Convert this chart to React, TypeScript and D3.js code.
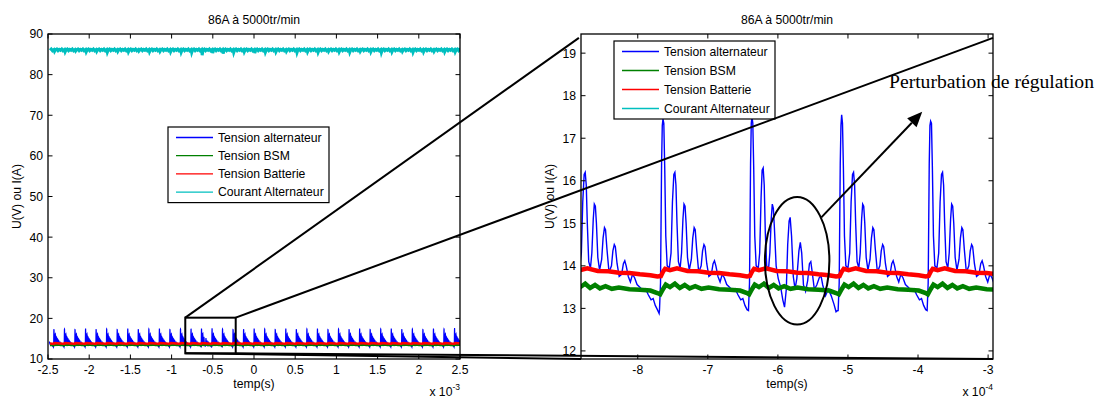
import React from 'react';
import * as d3 from 'd3';

const W = 1101;
const H = 399;

const seriesNames = ['Tension alternateur', 'Tension BSM', 'Tension Batterie', 'Courant Alternateur'];
const seriesColors = ['#0000ff', '#008000', '#ff0000', '#00bfbf'];

// spike (event) times, unit 1e-4 s
const leadEvent = -25.56;
const eventTimes = [
  -24.28, -23.0, -21.72, -20.44, -19.16, -17.88, -16.6, -15.32, -14.04, -12.76, -11.48, -10.2, -8.92,
  -7.64, -6.37, -5.09, -3.82,
  -2.54, -1.26, 0.02, 1.3, 2.58, 3.86, 5.14, 6.42, 7.7, 8.98, 10.26, 11.54, 12.82, 14.1, 15.38, 16.66,
  17.94, 19.22, 20.5, 21.78, 23.06, 24.34,
];
const endTime = 25.6;
// peak value of each alternator spike (V)
const spikePeaks = [
  17.0, 17.4, 17.3, 17.5, 17.2, 17.4, 17.3, 17.5, 17.2, 17.4, 17.5, 17.3, 17.4,
  17.45, 17.5, 17.55, 17.4,
  17.3, 17.2, 17.5, 17.4, 17.3, 17.5, 17.2, 17.4, 17.5, 17.3, 17.4, 17.2, 17.5, 17.3, 17.4, 17.5,
  17.2, 17.4, 17.3, 17.5, 17.4, 17.6,
];
// index of the disturbed regulation cycle
const perturbedEvents = [14];
// alternator current dip after each spike (A)
const currentDips = [
  85.7, 85.6, 85.8, 85.6, 85.7, 85.5, 85.7, 85.6, 85.8, 85.6, 85.7, 85.6, 85.5,
  85.4, 84.8, 85.3, 85.2,
  85.4, 85.6, 85.3, 85.5, 85.6, 85.7, 85.4, 85.6, 85.5, 85.7, 85.6, 85.5, 85.7, 85.6, 85.4, 85.6,
  85.7, 85.5, 85.6, 85.7, 85.6, 85.6,
];

// one regulation cycle of the alternator voltage: [dt (1e-4 s) after spike, V]; dt=0 is the spike peak
const alternatorCycle: [number, number][] = [
  [-0.05, 12.95], [-0.035, 13.6], [-0.02, 16.4], [-0.01, 17.3], [0, 17.45], [0.012, 17.35], [0.025, 16.3],
  [0.04, 14.7], [0.06, 14.0], [0.09, 13.95],
  [0.115, 14.3], [0.135, 15.5], [0.155, 16.15], [0.17, 16.2], [0.185, 15.9], [0.2, 15.0], [0.22, 14.1], [0.245, 13.95],
  [0.265, 14.3], [0.285, 15.1], [0.3, 15.45], [0.315, 15.4], [0.33, 15.0], [0.35, 14.2], [0.375, 13.9],
  [0.405, 14.15], [0.425, 14.65], [0.445, 14.9], [0.46, 14.85], [0.48, 14.4], [0.51, 13.85],
  [0.545, 14.0], [0.565, 14.35], [0.585, 14.5], [0.6, 14.45], [0.625, 14.05], [0.655, 13.75],
  [0.69, 13.8], [0.715, 14.05], [0.735, 14.12], [0.755, 14.0], [0.785, 13.75],
  [0.815, 13.62], [0.845, 13.8], [0.875, 13.72], [0.91, 13.56], [0.95, 13.5], [0.99, 13.42], [1.03, 13.46],
  [1.07, 13.32], [1.11, 13.2], [1.14, 13.23], [1.17, 13.07], [1.2, 12.97], [1.225, 12.88],
];
const alternatorPerturbedCycle: [number, number][] = [
  [-0.05, 12.95], [-0.035, 13.6], [-0.02, 16.4], [-0.01, 17.35], [0, 17.5], [0.012, 17.35], [0.025, 16.3],
  [0.04, 14.7], [0.06, 14.0], [0.09, 13.95],
  [0.11, 14.3], [0.13, 15.6], [0.145, 16.25], [0.16, 16.3], [0.175, 15.9], [0.19, 14.8], [0.21, 14.0], [0.235, 13.9],
  [0.255, 14.3], [0.275, 15.1], [0.29, 15.45], [0.305, 15.35], [0.32, 14.9], [0.345, 14.0], [0.375, 13.7],
  [0.41, 13.5], [0.44, 13.2], [0.465, 13.03], [0.49, 13.45], [0.51, 14.5], [0.53, 15.05], [0.545, 15.14],
  [0.565, 14.7], [0.59, 13.75], [0.615, 13.45], [0.64, 13.7], [0.67, 14.35], [0.69, 14.55], [0.71, 14.3],
  [0.735, 13.55], [0.765, 13.4], [0.795, 13.65], [0.82, 14.05], [0.84, 14.1], [0.86, 13.85], [0.89, 13.45],
  [0.925, 13.55], [0.96, 13.72], [0.985, 13.77], [1.01, 13.55], [1.05, 13.3], [1.09, 13.45], [1.13, 13.3],
  [1.17, 13.1], [1.2, 12.92], [1.225, 12.95],
];
const bsmCycle: [number, number][] = [
  [-0.04, 13.33], [0.0, 13.45], [0.04, 13.56], [0.1, 13.5], [0.17, 13.58], [0.24, 13.48], [0.31, 13.55],
  [0.38, 13.47], [0.46, 13.52], [0.55, 13.46], [0.65, 13.49], [0.8, 13.45], [0.95, 13.44], [1.1, 13.42],
  [1.2, 13.36],
];
const batteryCycle: [number, number][] = [
  [-0.03, 13.76], [0.0, 13.86], [0.03, 13.93], [0.1, 13.9], [0.2, 13.94], [0.35, 13.88], [0.5, 13.87],
  [0.65, 13.84], [0.8, 13.83], [0.95, 13.8], [1.1, 13.78], [1.2, 13.75],
];
const currentCycle: [number, number][] = [
  [0, 86.2], [0.08, 85.7], [0.2, 86.1], [0.35, 86.3], [0.5, 85.9], [0.65, 86.2], [0.8, 86.0],
  [0.95, 86.3], [1.1, 85.9], [1.2, 86.1],
];

const xTicksL = [-2.5, -2, -1.5, -1, -0.5, 0, 0.5, 1, 1.5, 2, 2.5];
const yTicksL = [10, 20, 30, 40, 50, 60, 70, 80, 90];
const xTicksR = [-8, -7, -6, -5, -4, -3];
const yTicksR = [12, 13, 14, 15, 16, 17, 18, 19];

function expand(
  cycleFor: (i: number) => [number, number][],
  replaceAt: number | null,
  replaceVals: number[] | null,
): [number, number][] {
  const evs = [leadEvent, ...eventTimes];
  const out: [number, number][] = [];
  for (let k = 0; k < evs.length; k++) {
    const i = k - 1;
    const t0 = evs[k];
    const cyc = cycleFor(i);
    const next = k + 1 < evs.length ? evs[k + 1] + cycleFor(i + 1)[0][0] : endTime;
    for (const [dt, v] of cyc) {
      if (i < 0 && dt < 0.7) continue;
      const t = t0 + dt;
      if (t >= next) break;
      let val = v;
      if (replaceAt !== null && replaceVals && i >= 0 && dt === replaceAt) val = replaceVals[i];
      out.push([t, val]);
    }
  }
  return out;
}

const blueData = expand((i) => (perturbedEvents.includes(i) ? alternatorPerturbedCycle : alternatorCycle), 0, spikePeaks);
const greenData = expand(() => bsmCycle, null, null);
const redData = expand(() => batteryCycle, null, null);
const cyanData = expand(() => currentCycle, 0.08, currentDips);

const FONT = '"Liberation Sans", Arial, Helvetica, sans-serif';
const FS = 12.2;

const L = { x0: 48, x1: 460, y0: 34, y1: 359 };
const R = { x0: 581, x1: 993, y0: 34, y1: 359 };

const xL = d3.scaleLinear().domain([-2.5, 2.5]).range([L.x0, L.x1]);
const yL = d3.scaleLinear().domain([10, 90]).range([L.y1, L.y0]);
const xR = d3.scaleLinear().domain([-8.81, -2.93]).range([R.x0, R.x1]);
const yR = d3.scaleLinear().domain([11.81, 19.45]).range([R.y1, R.y0]);

const lineL = d3.line<[number, number]>().x((d) => xL(d[0] / 10)).y((d) => yL(d[1]));
const lineR = d3.line<[number, number]>().x((d) => xR(d[0])).y((d) => yR(d[1]));

function Axes({ box, xs, ys, xt, yt, fmt, exp }: any) {
  const tl = 4.5;
  return (
    <g>
      {xt.map((t: number) => (
        <g key={'x' + t}>
          <line x1={xs(t)} x2={xs(t)} y1={box.y1} y2={box.y1 - tl} stroke="#000" strokeWidth={1} />
          <line x1={xs(t)} x2={xs(t)} y1={box.y0} y2={box.y0 + tl} stroke="#000" strokeWidth={1} />
          <text x={xs(t)} y={374} textAnchor="middle" fontSize={FS} fontFamily={FONT} fill="#000">
            {fmt(t)}
          </text>
        </g>
      ))}
      {yt.map((t: number) => (
        <g key={'y' + t}>
          <line x1={box.x0} x2={box.x0 + tl} y1={ys(t)} y2={ys(t)} stroke="#000" strokeWidth={1} />
          <line x1={box.x1} x2={box.x1 - tl} y1={ys(t)} y2={ys(t)} stroke="#000" strokeWidth={1} />
          <text x={box.x0 - 5} y={ys(t)} dy="0.36em" textAnchor="end" fontSize={FS} fontFamily={FONT} fill="#000">
            {t}
          </text>
        </g>
      ))}
      <rect x={box.x0} y={box.y0} width={box.x1 - box.x0} height={box.y1 - box.y0} fill="none" stroke="#000" strokeWidth={1.3} />
      <text x={(box.x0 + box.x1) / 2} y={24} textAnchor="middle" fontSize={FS} fontFamily={FONT} fill="#000">
        86A à 5000tr/min
      </text>
      <text x={(box.x0 + box.x1) / 2} y={388} textAnchor="middle" fontSize={FS} fontFamily={FONT} fill="#000">
        temp(s)
      </text>
      <text
        transform={`translate(${box.x0 - 27},${(box.y0 + box.y1) / 2}) rotate(-90)`}
        textAnchor="middle"
        fontSize={FS}
        fontFamily={FONT}
        fill="#000"
      >
        U(V) ou I(A)
      </text>
      <text x={box.x1} y={396} textAnchor="end" fontSize={FS} fontFamily={FONT} fill="#000">
        x 10
        <tspan dy={-6} fontSize={8.5}>
          {exp}
        </tspan>
      </text>
    </g>
  );
}

function Legend({ x, y, gap }: { x: number; y: number; gap: number }) {
  const w = 161;
  const h = 21 + 3 * gap;
  return (
    <g>
      <rect x={x} y={y} width={w} height={h} fill="#fff" stroke="#000" strokeWidth={1.2} />
      {seriesNames.map((n, i) => {
        const ry = y + 10.5 + i * gap;
        return (
          <g key={n}>
            <line x1={x + 8} x2={x + 45} y1={ry} y2={ry} stroke={seriesColors[i]} strokeWidth={1.3} />
            <text x={x + 50} y={ry} dy="0.36em" fontSize={FS} fontFamily={FONT} fill="#000">
              {n}
            </text>
          </g>
        );
      })}
    </g>
  );
}

export default function App() {
  const boxX0 = xL(-0.834);
  const boxX1 = xL(-0.222);
  const boxY0 = yL(20.17);
  const boxY1 = yL(11.4);

  const ecx = xR(-5.725);
  const ecy = yR(14.12);
  const erx = xR(-5.725 + 0.46) - ecx;
  const ery = ecy - yR(14.12 + 1.5);

  const ax0 = xR(-5.38);
  const ay0 = yR(15.14);
  const ax1 = xR(-3.94);
  const ay1 = yR(17.62);
  const dx = ax1 - ax0;
  const dy = ay1 - ay0;
  const len = Math.hypot(dx, dy);
  const ux = dx / len;
  const uy = dy / len;
  const hl = 15;
  const hw = 6.5;
  const bx = ax1 - ux * hl;
  const by = ay1 - uy * hl;
  const head = `${ax1},${ay1} ${bx - uy * hw},${by + ux * hw} ${bx + uy * hw},${by - ux * hw}`;

  return (
    <svg width={W} height={H} style={{ position: 'absolute', left: 0, top: 0, background: '#fff' }}>
      <defs>
        <clipPath id="clipL">
          <rect x={L.x0} y={L.y0} width={L.x1 - L.x0} height={L.y1 - L.y0} />
        </clipPath>
        <clipPath id="clipR">
          <rect x={R.x0} y={R.y0} width={R.x1 - R.x0} height={R.y1 - R.y0} />
        </clipPath>
      </defs>
      <rect x={0} y={0} width={W} height={H} fill="#fff" />

      {/* left plot */}
      <g clipPath="url(#clipL)">
        <path d={lineL(blueData) || ''} fill="none" stroke={seriesColors[0]} strokeWidth={1.1} />
        <path d={lineL(greenData) || ''} fill="none" stroke={seriesColors[1]} strokeWidth={2.3} />
        <path d={lineL(redData) || ''} fill="none" stroke={seriesColors[2]} strokeWidth={2.5} />
        <path d={lineL(cyanData) || ''} fill="none" stroke={seriesColors[3]} strokeWidth={3} />
      </g>
      <Axes box={L} xs={xL} ys={yL} xt={xTicksL} yt={yTicksL} fmt={(t: number) => String(t)} exp="-3" />
      <Legend x={168} y={127} gap={18.2} />

      {/* right plot */}
      <g clipPath="url(#clipR)">
        <path d={lineR(blueData) || ''} fill="none" stroke={seriesColors[0]} strokeWidth={1.4} />
        <path d={lineR(greenData) || ''} fill="none" stroke={seriesColors[1]} strokeWidth={4.5} />
        <path d={lineR(redData) || ''} fill="none" stroke={seriesColors[2]} strokeWidth={4.5} />
        <path d={lineR(cyanData) || ''} fill="none" stroke={seriesColors[3]} strokeWidth={1.3} />
      </g>
      <Axes box={R} xs={xR} ys={yR} xt={xTicksR} yt={yTicksR} fmt={(t: number) => String(t)} exp="-4" />
      <Legend x={614} y={41} gap={19} />

      {/* zoom box and connectors */}
      <rect x={boxX0} y={boxY0} width={boxX1 - boxX0} height={boxY1 - boxY0} fill="none" stroke="#000" strokeWidth={2} />
      <line x1={boxX0} y1={boxY0} x2={xR(-8.84)} y2={yR(19.36)} stroke="#000" strokeWidth={2} />
      <line x1={boxX1} y1={boxY0} x2={xR(-2.93)} y2={yR(19.36)} stroke="#000" strokeWidth={2} />
      <line x1={boxX0} y1={boxY1} x2={xR(-8.81)} y2={yR(11.81)} stroke="#000" strokeWidth={2} />
      <line x1={boxX1} y1={boxY1} x2={xR(-2.93)} y2={yR(11.81)} stroke="#000" strokeWidth={2} />

      {/* annotation */}
      <ellipse cx={ecx} cy={ecy} rx={erx} ry={ery} fill="none" stroke="#000" strokeWidth={2} />
      <line x1={ax0} y1={ay0} x2={bx} y2={by} stroke="#000" strokeWidth={2} />
      <polygon points={head} fill="#000" />
      <text
        x={889}
        y={88}
        fontSize={18}
        fontFamily='"Liberation Serif", "Times New Roman", serif'
        textLength={205}
        lengthAdjust="spacingAndGlyphs"
        fill="#000"
      >
        Perturbation de régulation
      </text>
    </svg>
  );
}
